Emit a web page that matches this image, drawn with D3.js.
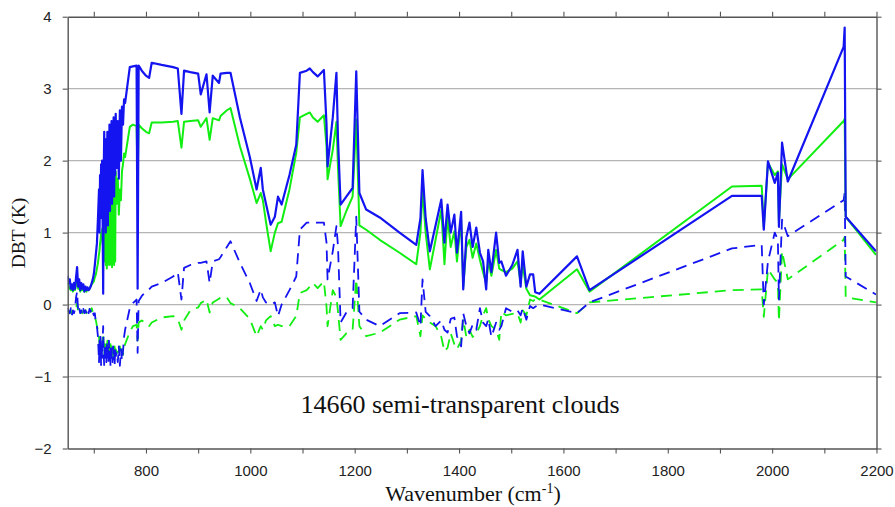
<!DOCTYPE html>
<html><head><meta charset="utf-8">
<script src="https://cdn.jsdelivr.net/npm/d3@7"></script>
<style>body{margin:0;background:#fff}</style></head>
<body><svg id="c" width="895" height="507"></svg>
<script>
const wavenumbers=[650,652,654,656,658,660,662,664,666,668,670,672,674,676,678,680,682,684,686,688,690,692,694,696,698,
700,702,704,706,708,710,711,712,713,714,715,716,717,718,719,720,721,722,723,724,725,726,727,728,729,730,731,732,733,734,735,736,737,738,739,740,741,742,744,746,748,750,752,754,756,758,760,
769,775,782,784,786,792,800,806,811,830,852,861,868,873,885,900,905,916,922,928,940,943,955,962,980,999,
1012,1020,1024,1030,1039,1047,1053,1060,1075,1088,1095,1108,1114,1120,1129,1141,1146,1148,1158,1165,1168,1173,1184,1196,1203,1209,1222,1248,1286,
1318,1326,1330,1336,1344,1355,1366,1372,1378,1384,1391,1396,1404,1408,1414,1420,1426,1433,1440,1446,1452,1456,1462,1471,1477,1481,1490,1502,1512,1518,1522,1529,1536,1542,1546,1554,
1626,1650,1923,1980,1984,1992,2005,2011,2013,2019,2030,2137,2139,2141,2199];

const blueSolid=[0.40,0.30,0.35,0.22,0.28,0.20,0.30,0.22,0.38,0.52,0.25,0.35,0.20,0.30,0.22,0.28,0.18,0.25,0.20,0.24,0.20,0.22,0.25,0.30,0.35,
0.42,0.55,0.70,0.85,1.20,1.60,1.00,1.80,1.20,1.95,1.40,2.00,1.10,0.15,1.80,2.40,1.30,2.20,1.00,2.30,1.40,2.40,1.10,2.20,1.50,2.50,1.30,2.35,1.60,2.55,1.40,2.45,1.70,2.60,1.50,2.50,1.80,2.65,1.90,2.55,1.75,2.70,2.00,2.75,2.50,2.85,2.80,
3.30,3.31,3.32,0.22,3.32,3.25,3.18,3.15,3.36,3.33,3.30,3.28,2.65,3.25,3.23,3.21,2.92,3.20,2.67,3.18,3.08,3.21,3.22,3.22,2.60,2.05,
1.60,1.90,1.60,1.40,1.11,1.22,1.50,1.39,1.80,2.22,3.22,3.25,3.28,3.23,3.17,3.26,2.50,1.92,2.60,3.22,2.30,1.39,1.50,1.62,3.24,1.55,1.32,1.21,1.00,
0.83,1.20,1.87,1.20,0.74,1.10,1.46,0.86,1.39,1.00,1.25,0.72,1.29,0.21,0.94,1.14,0.80,1.07,0.72,0.60,0.21,0.76,0.45,1.00,0.58,0.60,0.40,0.55,0.76,0.25,0.74,0.25,0.42,0.42,0.17,0.15,
0.67,0.20,1.51,1.51,1.04,1.99,1.69,1.83,1.08,2.25,1.71,3.58,3.85,1.22,0.74];

const greenSolid=[0.30,0.25,0.22,0.20,0.22,0.18,0.24,0.20,0.28,0.35,0.22,0.25,0.18,0.22,0.20,0.22,0.18,0.20,0.18,0.22,0.20,0.22,0.26,0.28,0.30,
0.32,0.38,0.42,0.50,0.58,0.70,0.75,0.85,0.90,1.00,0.95,1.05,0.85,0.80,1.10,1.20,0.60,1.60,0.55,1.50,0.50,1.65,0.55,1.55,0.60,1.70,0.55,1.60,0.60,1.75,0.52,1.65,0.58,1.80,0.55,1.70,0.60,1.85,1.40,1.75,1.25,1.60,1.45,1.85,1.95,2.10,2.05,
2.47,2.50,2.48,1.74,2.50,2.45,2.40,2.38,2.53,2.53,2.54,2.55,2.18,2.54,2.55,2.56,2.47,2.59,2.29,2.59,2.56,2.62,2.70,2.73,2.20,1.75,
1.41,1.55,1.45,1.15,0.74,1.00,1.13,1.15,1.60,2.11,2.60,2.65,2.67,2.60,2.54,2.63,2.20,1.74,2.15,2.54,1.90,1.09,1.30,1.50,2.57,1.10,1.04,0.90,0.72,
0.56,1.00,1.60,1.00,0.49,0.90,1.32,0.56,1.22,0.80,1.02,0.60,1.18,0.25,0.80,0.90,0.65,0.85,0.62,0.45,0.30,0.60,0.40,0.76,0.50,0.48,0.45,0.50,0.60,0.30,0.55,0.22,0.13,0.12,0.11,0.07,
0.49,0.18,1.64,1.65,1.08,1.97,1.80,1.85,1.15,1.95,1.74,2.55,2.58,1.22,0.69];

const blueDashed=[-0.05,-0.10,-0.12,-0.05,-0.15,-0.08,-0.12,-0.06,0.10,0.18,-0.10,-0.05,-0.12,-0.08,-0.14,-0.06,-0.12,-0.08,-0.13,-0.07,-0.12,-0.06,-0.10,-0.05,-0.10,
-0.15,-0.12,-0.25,-0.30,-0.45,-0.80,-0.50,-0.70,-0.45,-0.85,-0.55,-0.75,-0.50,-0.30,-0.70,-0.85,-0.55,-0.75,-0.60,-0.80,-0.55,-0.70,-0.60,-0.82,-0.50,-0.75,-0.62,-0.85,-0.55,-0.72,-0.66,-0.80,-0.58,-0.70,-0.62,-0.85,-0.60,-0.72,-0.66,-0.80,-0.58,-0.85,-0.62,-0.78,-0.65,-0.45,-0.35,
-0.05,0.02,0.07,-0.67,0.05,0.12,0.18,0.21,0.25,0.30,0.39,0.45,0.07,0.51,0.55,0.58,0.58,0.60,0.30,0.60,0.63,0.66,0.80,0.88,0.58,0.30,
0.05,0.21,0.10,0.03,0.00,0.03,-0.16,0.00,0.20,0.39,1.04,1.14,1.14,1.13,1.14,1.14,0.86,0.35,0.74,1.09,0.81,-0.25,-0.11,-0.05,1.22,-0.10,-0.21,-0.30,-0.12,
-0.11,-0.30,0.35,-0.10,-0.16,-0.30,-0.22,-0.35,-0.39,-0.20,-0.18,-0.44,-0.58,-0.12,-0.30,-0.40,-0.28,-0.35,-0.05,-0.25,-0.30,-0.20,-0.45,-0.25,-0.35,-0.30,-0.05,-0.10,-0.08,-0.15,-0.05,-0.21,-0.02,-0.05,-0.03,0.00,
-0.12,0.03,0.78,0.83,0.00,0.60,1.00,0.90,0.07,1.18,0.95,1.45,1.55,0.39,0.14];

const greenDashed=[-0.08,-0.10,-0.12,-0.08,-0.12,-0.10,-0.10,-0.08,-0.05,0.02,-0.10,-0.08,-0.10,-0.10,-0.12,-0.08,-0.10,-0.08,-0.12,-0.08,-0.10,-0.06,-0.10,-0.05,-0.10,
-0.14,-0.18,-0.22,-0.30,-0.35,-0.45,-0.55,-0.50,-0.60,-0.65,-0.55,-0.62,-0.50,-0.40,-0.55,-0.70,-0.60,-0.50,-0.65,-0.55,-0.70,-0.50,-0.68,-0.55,-0.72,-0.60,-0.65,-0.55,-0.70,-0.58,-0.62,-0.55,-0.72,-0.60,-0.65,-0.58,-0.70,-0.62,-0.68,-0.60,-0.66,-0.58,-0.70,-0.62,-0.70,-0.60,-0.55,
-0.38,-0.30,-0.28,-0.50,-0.25,-0.22,-0.26,-0.30,-0.25,-0.18,-0.16,-0.20,-0.35,-0.22,-0.08,-0.04,0.02,0.07,-0.11,0.03,0.08,0.10,0.10,0.02,-0.05,-0.20,
-0.44,-0.30,-0.35,-0.22,-0.16,-0.30,-0.28,-0.30,-0.30,-0.16,0.16,0.20,0.25,0.30,0.23,0.32,-0.03,-0.30,0.20,0.10,-0.10,-0.49,-0.40,-0.35,0.35,-0.30,-0.44,-0.39,-0.21,
-0.16,-0.44,-0.15,-0.20,-0.25,-0.30,-0.45,-0.65,-0.60,-0.40,-0.55,-0.62,-0.50,-0.20,-0.45,-0.35,-0.45,-0.40,-0.30,-0.15,-0.05,-0.20,-0.30,-0.35,-0.49,-0.10,-0.15,-0.13,-0.12,-0.25,-0.08,-0.15,0.07,0.05,0.07,0.07,
-0.12,0.03,0.20,0.21,-0.17,0.49,0.35,0.30,-0.23,0.74,0.35,0.90,0.94,0.10,0.03];

const yTicks=[-2,-1,0,1,2,3,4];
const xTicks=[700,800,900,1000,1100,1200,1300,1400,1500,1600,1700,1800,1900,2000,2100,2200];
const xTickLabels=[800,1000,1200,1400,1600,1800,2000,2200];
const titleText="14660 semi-transparent clouds";
const yLabel="DBT (K)";

const svg=d3.select("#c");
const L=67.7,R=876.5,T=16.7,B=448.5;
const x=d3.scaleLinear().domain([650,2200]).range([L,R]);
const y=d3.scaleLinear().domain([-2,4]).range([B,T]);

svg.append("rect").attr("width",895).attr("height",507).attr("fill","#fff");

// gridlines
svg.append("g").selectAll("line").data(yTicks.filter(d=>d>-2&&d<4)).join("line")
  .attr("x1",L).attr("x2",R).attr("y1",d=>y(d)).attr("y2",d=>y(d))
  .attr("stroke","#b5b5b5").attr("stroke-width",1.3);

svg.append("clipPath").attr("id","clip").append("rect")
  .attr("x",L).attr("y",T-2).attr("width",R-L).attr("height",B-T+4);

const line=d3.line().x(d=>x(d[0])).y(d=>y(d[1]));
const series=[
  {vals:greenDashed,color:"#11ee11",dash:"11,7",w:1.8},
  {vals:blueDashed,color:"#1414f0",dash:"11,7",w:1.8},
  {vals:greenSolid,color:"#11ee11",dash:null,w:2},
  {vals:blueSolid,color:"#1414f0",dash:null,w:2.2}
];
const gl=svg.append("g").attr("clip-path","url(#clip)");
series.forEach(s=>{
  gl.append("path").datum(wavenumbers.map((w,i)=>[w,s.vals[i]]))
    .attr("d",line).attr("fill","none").attr("stroke",s.color)
    .attr("stroke-width",s.w).attr("stroke-linejoin","round")
    .attr("stroke-dasharray",s.dash);
});

// axes
const axCol="#555";
function style(g){
  g.selectAll(".domain").attr("stroke",axCol).attr("stroke-width",1.4);
  g.selectAll(".tick line").attr("stroke",axCol).attr("stroke-width",1.1);
  g.selectAll("text").attr("font-family","'Liberation Sans', Arial, sans-serif").attr("font-size",15).attr("fill","#222");
}
svg.append("g").attr("transform",`translate(0,${B})`)
  .call(d3.axisBottom(x).tickValues(xTicks).tickSize(5).tickSizeOuter(0).tickPadding(12)
  .tickFormat(d=>xTickLabels.includes(d)?d:"")).call(style);
svg.append("g").attr("transform",`translate(0,${T})`)
  .call(d3.axisTop(x).tickValues(xTicks).tickSize(5).tickSizeOuter(0).tickFormat("")).call(style);
svg.append("g").attr("transform",`translate(${L},0)`)
  .call(d3.axisLeft(y).tickValues(yTicks).tickSize(5).tickSizeOuter(0).tickPadding(11).tickFormat(d3.format("d"))).call(style);
svg.append("g").attr("transform",`translate(${R},0)`)
  .call(d3.axisRight(y).tickValues(yTicks).tickSize(5).tickSizeOuter(0).tickFormat("")).call(style);

// texts
const serif="'Liberation Serif','Times New Roman',serif";
svg.append("text").attr("x",460).attr("y",413).attr("text-anchor","middle")
  .attr("font-family",serif).attr("font-size",26).attr("fill","#111").text(titleText);
svg.append("text").attr("transform","translate(25,233) rotate(-90)").attr("text-anchor","middle")
  .attr("font-family",serif).attr("font-size",19.5).attr("fill","#111").text(yLabel);
const xl=svg.append("text").attr("x",473).attr("y",501).attr("text-anchor","middle")
  .attr("font-family",serif).attr("font-size",22).attr("fill","#111");
xl.append("tspan").text("Wavenumber (cm");
xl.append("tspan").attr("font-size",14).attr("dy",-8).text("-1");
xl.append("tspan").attr("dy",8).text(")");
</script></body></html>
